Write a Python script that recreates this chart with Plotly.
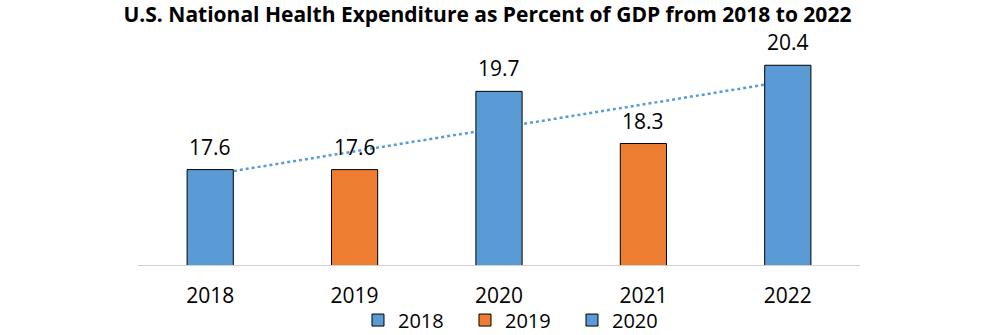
import plotly.graph_objects as go
import numpy as np

years = ["2018", "2019", "2020", "2021", "2022"]
values = [17.6, 17.6, 19.7, 18.3, 20.4]
colors = ["#5B9BD5", "#ED7D31", "#5B9BD5", "#ED7D31", "#5B9BD5"]
legend_shown = [True, True, True, False, False]

idx = np.arange(len(values))
slope, intercept = np.polyfit(idx, values, 1)
trend = slope * idx + intercept

fig = go.Figure()
fig.add_trace(go.Scatter(x=years, y=trend, mode="lines", showlegend=False,
                         line=dict(color="#5B9BD5", width=2.5, dash="dot"), hoverinfo="skip"))
for i, (yr, v, c, sl) in enumerate(zip(years, values, colors, legend_shown)):
    fig.add_trace(go.Bar(x=[yr], y=[v], name=yr, marker=dict(color=c, line=dict(color="black", width=1)),
                         showlegend=sl, width=0.32))
    fig.add_annotation(x=i, y=v, text=f"{v:.1f}", showarrow=False, yanchor="bottom",
                       yshift=7, font=dict(size=21, color="black"))

fig.update_layout(
    width=1005, height=335,
    margin=dict(l=138, r=145, t=28, b=70, autoexpand=False),
    paper_bgcolor="white", plot_bgcolor="white",
    barmode="overlay",
    font=dict(family="Open Sans", color="black"),
    title=dict(text="<b>U.S. National Health Expenditure as Percent of GDP from 2018 to 2022</b>",
               x=0.485, xanchor="center", y=0.955, yanchor="middle",
               font=dict(size=21, color="black", family="Open Sans")),
    xaxis=dict(type="category", categoryarray=years, showline=True, linecolor="#D0D0D0", linewidth=1,
               ticks="outside", ticklen=12, tickcolor="rgba(0,0,0,0)",
               tickfont=dict(size=21, color="black"), showgrid=False),
    yaxis=dict(range=[15.04, 21.4], visible=False, showgrid=False),
    legend=dict(orientation="h", x=0.527, xanchor="center", y=-0.15, yanchor="top",
                bgcolor="rgba(0,0,0,0)",
                font=dict(size=20, color="black"), itemwidth=30, traceorder="normal",
                entrywidth=62, entrywidthmode="pixels"),
)
fig.write_html("out.html")
